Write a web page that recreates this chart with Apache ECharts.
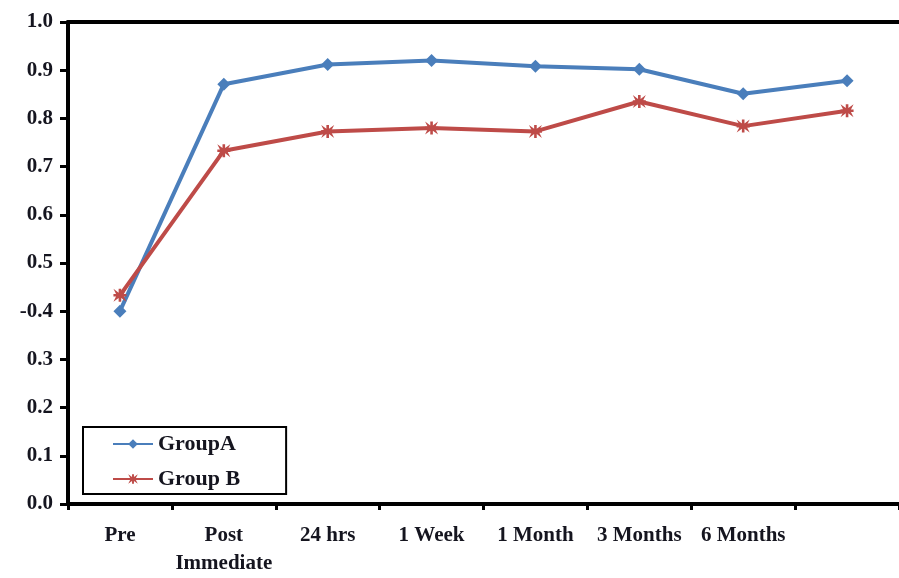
<!DOCTYPE html>
<html>
<head>
<meta charset="utf-8">
<script src="https://cdn.jsdelivr.net/npm/echarts@6/dist/echarts.min.js"></script>
<style>
  html, body { margin: 0; padding: 0; background: #ffffff; }
  #chart { width: 899px; height: 578px; }
</style>
</head>
<body>
<div id="chart"></div>
<script>
// Time points of the follow-up (the last band carries no label)
var categories = ['Pre', 'Post\nImmediate', '24 hrs', '1 Week', '1 Month', '3 Months', '6 Months', ''];
// Mean scores per group
var groupA = [0.40, 0.871, 0.912, 0.920, 0.908, 0.902, 0.851, 0.878];
var groupB = [0.433, 0.733, 0.773, 0.780, 0.773, 0.835, 0.784, 0.816];
// Y tick labels as printed on the axis
var yTickLabels = ['0.0', '0.1', '0.2', '0.3', '-0.4', '0.5', '0.6', '0.7', '0.8', '0.9', '1.0'];

var labelFont = {
  fontFamily: '"Liberation Serif", "Times New Roman", serif',
  fontWeight: 'bold',
  fontSize: 21,
  color: '#15151f'
};

// asterisk-like marker for Group B
var starMarker = 'path://M0,0 L4,3 L4,0 L6,0 L6,3 L10,0 L8,4 L10,4 L10,6 L8,6 L10,10 L6,7 L6,10 L4,10 L4,7 L0,10 L2,6 L0,6 L0,4 L2,4 Z';

var chart = echarts.init(document.getElementById('chart'), null, { renderer: 'canvas' });
chart.setOption({
  backgroundColor: '#ffffff',
  animation: false,
  grid: { left: 68, right: 0, top: 22, bottom: 66, containLabel: false },
  legend: {
    left: 83,
    top: 427,
    orient: 'vertical',
    itemGap: 13,
    itemWidth: 40,
    itemHeight: 12,
    padding: [6, 46, 4, 29],
    borderColor: '#000000',
    borderWidth: 2,
    backgroundColor: '#ffffff',
    textStyle: Object.assign({}, labelFont, { fontSize: 22 }),
    data: ['GroupA', 'Group B']
  },
  xAxis: [{
    type: 'category',
    data: categories,
    boundaryGap: true,
    axisLine: { show: true, lineStyle: { color: '#000000', width: 4 } },
    axisTick: { show: true, length: 6, lineStyle: { color: '#000000', width: 3 } },
    axisLabel: Object.assign({}, labelFont, { margin: 18, interval: 0, lineHeight: 28 }),
    splitLine: { show: false }
  }, {
    type: 'category',
    position: 'top',
    data: categories,
    axisLine: { show: true, lineStyle: { color: '#000000', width: 4 } },
    axisTick: { show: false },
    axisLabel: { show: false },
    splitLine: { show: false }
  }],
  yAxis: {
    type: 'value',
    min: 0,
    max: 1,
    interval: 0.1,
    axisLine: { show: true, lineStyle: { color: '#000000', width: 4 } },
    axisTick: { show: true, length: 8, lineStyle: { color: '#000000', width: 3 } },
    axisLabel: Object.assign({}, labelFont, {
      margin: 15,
      formatter: function (v) { return yTickLabels[Math.round(v * 10)]; }
    }),
    splitLine: { show: false }
  },
  series: [{
    name: 'GroupA',
    type: 'line',
    data: groupA,
    symbol: 'diamond',
    symbolSize: 13,
    showAllSymbol: true,
    lineStyle: { color: '#4a7ebb', width: 4 },
    itemStyle: { color: '#4a7ebb' }
  }, {
    name: 'Group B',
    type: 'line',
    data: groupB,
    symbol: starMarker,
    symbolSize: 13,
    showAllSymbol: true,
    lineStyle: { color: '#be4b48', width: 4 },
    itemStyle: { color: '#be4b48' }
  }]
});
</script>
</body>
</html>
